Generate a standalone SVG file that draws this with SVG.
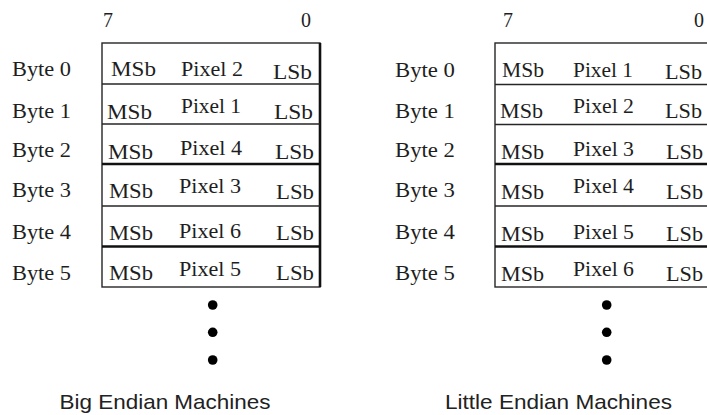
<svg xmlns="http://www.w3.org/2000/svg" width="707" height="415" viewBox="0 0 707 415">
<style>
.t{font-family:"Liberation Serif","Times New Roman",serif;font-size:20px;fill:#1e1e1e}
.cap{font-family:"Liberation Sans",Arial,sans-serif;font-size:21px;fill:#222}
.ln{stroke:#262626;stroke-width:1.4;fill:none}
.thk{stroke:#111;stroke-width:2.6;fill:none}
.dot{fill:#000}
</style>
<rect width="707" height="415" fill="#fff"/>

<g id="big-endian">
  <text class="t" x="103" y="27">7</text>
  <text class="t" x="301" y="27">0</text>
  <g id="big-box">
    <rect class="ln" x="102" y="43" width="218" height="244"/>
    <line class="thk" x1="320" y1="43" x2="320" y2="287"/>
    <line class="ln" x1="102" y1="84" x2="320" y2="84"/>
    <line class="ln" x1="102" y1="124" x2="320" y2="124"/>
    <line class="thk" x1="102" y1="164" x2="320" y2="164"/>
    <line class="ln" x1="102" y1="206" x2="320" y2="206"/>
    <line class="thk" x1="102" y1="246.5" x2="320" y2="246.5"/>
  </g>
  <g id="big-byte0">
    <text class="t" x="12" y="76" textLength="59" lengthAdjust="spacingAndGlyphs">Byte 0</text>
    <text class="t" x="111" y="76" textLength="45" lengthAdjust="spacingAndGlyphs">MSb</text>
    <text class="t" x="181" y="76" textLength="62" lengthAdjust="spacingAndGlyphs">Pixel 2</text>
    <text class="t" x="273" y="79" textLength="39" lengthAdjust="spacingAndGlyphs">LSb</text>
  </g>
  <g id="big-byte1">
    <text class="t" x="12" y="118" textLength="59" lengthAdjust="spacingAndGlyphs">Byte 1</text>
    <text class="t" x="107" y="119" textLength="45" lengthAdjust="spacingAndGlyphs">MSb</text>
    <text class="t" x="181" y="113" textLength="60" lengthAdjust="spacingAndGlyphs">Pixel 1</text>
    <text class="t" x="274" y="119" textLength="39" lengthAdjust="spacingAndGlyphs">LSb</text>
  </g>
  <g id="big-byte2">
    <text class="t" x="12" y="157" textLength="59" lengthAdjust="spacingAndGlyphs">Byte 2</text>
    <text class="t" x="108" y="159" textLength="45" lengthAdjust="spacingAndGlyphs">MSb</text>
    <text class="t" x="180" y="155" textLength="62" lengthAdjust="spacingAndGlyphs">Pixel 4</text>
    <text class="t" x="275" y="159" textLength="39" lengthAdjust="spacingAndGlyphs">LSb</text>
  </g>
  <g id="big-byte3">
    <text class="t" x="12" y="197" textLength="59" lengthAdjust="spacingAndGlyphs">Byte 3</text>
    <text class="t" x="109" y="198" textLength="44" lengthAdjust="spacingAndGlyphs">MSb</text>
    <text class="t" x="179" y="193" textLength="62" lengthAdjust="spacingAndGlyphs">Pixel 3</text>
    <text class="t" x="276" y="199" textLength="38" lengthAdjust="spacingAndGlyphs">LSb</text>
  </g>
  <g id="big-byte4">
    <text class="t" x="12" y="239" textLength="59" lengthAdjust="spacingAndGlyphs">Byte 4</text>
    <text class="t" x="109" y="240" textLength="44" lengthAdjust="spacingAndGlyphs">MSb</text>
    <text class="t" x="179" y="238" textLength="62" lengthAdjust="spacingAndGlyphs">Pixel 6</text>
    <text class="t" x="276" y="240" textLength="38" lengthAdjust="spacingAndGlyphs">LSb</text>
  </g>
  <g id="big-byte5">
    <text class="t" x="12" y="280" textLength="59" lengthAdjust="spacingAndGlyphs">Byte 5</text>
    <text class="t" x="109" y="280" textLength="44" lengthAdjust="spacingAndGlyphs">MSb</text>
    <text class="t" x="179" y="276" textLength="62" lengthAdjust="spacingAndGlyphs">Pixel 5</text>
    <text class="t" x="276" y="280" textLength="38" lengthAdjust="spacingAndGlyphs">LSb</text>
  </g>
  <g id="big-dots">
    <circle class="dot" cx="212.7" cy="305" r="4.8"/>
    <circle class="dot" cx="212.7" cy="332.3" r="4.8"/>
    <circle class="dot" cx="212.7" cy="360" r="4.8"/>
  </g>
  <text class="cap" x="59.5" y="408.5" textLength="211" lengthAdjust="spacingAndGlyphs">Big Endian Machines</text>
</g>

<g id="little-endian">
  <text class="t" x="503" y="27">7</text>
  <text class="t" x="694" y="27">0</text>
  <g id="little-box">
    <rect class="ln" x="495" y="43" width="220" height="244"/>
    <line class="ln" x1="495" y1="84.5" x2="715" y2="84.5"/>
    <line class="ln" x1="495" y1="124.5" x2="715" y2="124.5"/>
    <line class="thk" x1="495" y1="164" x2="715" y2="164"/>
    <line class="ln" x1="495" y1="206" x2="715" y2="206"/>
    <line class="thk" x1="495" y1="246.5" x2="715" y2="246.5"/>
  </g>
  <g id="little-byte0">
    <text class="t" x="395" y="76.5" textLength="60" lengthAdjust="spacingAndGlyphs">Byte 0</text>
    <text class="t" x="502" y="77" textLength="42" lengthAdjust="spacingAndGlyphs">MSb</text>
    <text class="t" x="573" y="77" textLength="60" lengthAdjust="spacingAndGlyphs">Pixel 1</text>
    <text class="t" x="665" y="79" textLength="37" lengthAdjust="spacingAndGlyphs">LSb</text>
  </g>
  <g id="little-byte1">
    <text class="t" x="395" y="118" textLength="60" lengthAdjust="spacingAndGlyphs">Byte 1</text>
    <text class="t" x="500" y="118" textLength="43" lengthAdjust="spacingAndGlyphs">MSb</text>
    <text class="t" x="573" y="113" textLength="61" lengthAdjust="spacingAndGlyphs">Pixel 2</text>
    <text class="t" x="665" y="118" textLength="37" lengthAdjust="spacingAndGlyphs">LSb</text>
  </g>
  <g id="little-byte2">
    <text class="t" x="395" y="157" textLength="60" lengthAdjust="spacingAndGlyphs">Byte 2</text>
    <text class="t" x="501" y="159" textLength="43" lengthAdjust="spacingAndGlyphs">MSb</text>
    <text class="t" x="573" y="156" textLength="61" lengthAdjust="spacingAndGlyphs">Pixel 3</text>
    <text class="t" x="666" y="159" textLength="37" lengthAdjust="spacingAndGlyphs">LSb</text>
  </g>
  <g id="little-byte3">
    <text class="t" x="395" y="197" textLength="60" lengthAdjust="spacingAndGlyphs">Byte 3</text>
    <text class="t" x="501" y="199" textLength="43" lengthAdjust="spacingAndGlyphs">MSb</text>
    <text class="t" x="573" y="193" textLength="61" lengthAdjust="spacingAndGlyphs">Pixel 4</text>
    <text class="t" x="666" y="199" textLength="37" lengthAdjust="spacingAndGlyphs">LSb</text>
  </g>
  <g id="little-byte4">
    <text class="t" x="395" y="239" textLength="60" lengthAdjust="spacingAndGlyphs">Byte 4</text>
    <text class="t" x="501" y="241" textLength="43" lengthAdjust="spacingAndGlyphs">MSb</text>
    <text class="t" x="573" y="239" textLength="61" lengthAdjust="spacingAndGlyphs">Pixel 5</text>
    <text class="t" x="666" y="241" textLength="37" lengthAdjust="spacingAndGlyphs">LSb</text>
  </g>
  <g id="little-byte5">
    <text class="t" x="395" y="280" textLength="60" lengthAdjust="spacingAndGlyphs">Byte 5</text>
    <text class="t" x="501" y="281" textLength="43" lengthAdjust="spacingAndGlyphs">MSb</text>
    <text class="t" x="573" y="276" textLength="61" lengthAdjust="spacingAndGlyphs">Pixel 6</text>
    <text class="t" x="666" y="281" textLength="37" lengthAdjust="spacingAndGlyphs">LSb</text>
  </g>
  <g id="little-dots">
    <circle class="dot" cx="606.7" cy="305" r="4.8"/>
    <circle class="dot" cx="606.7" cy="332.3" r="4.8"/>
    <circle class="dot" cx="606.7" cy="360" r="4.8"/>
  </g>
  <text class="cap" x="445" y="408.5" textLength="227" lengthAdjust="spacingAndGlyphs">Little Endian Machines</text>
</g>
</svg>
